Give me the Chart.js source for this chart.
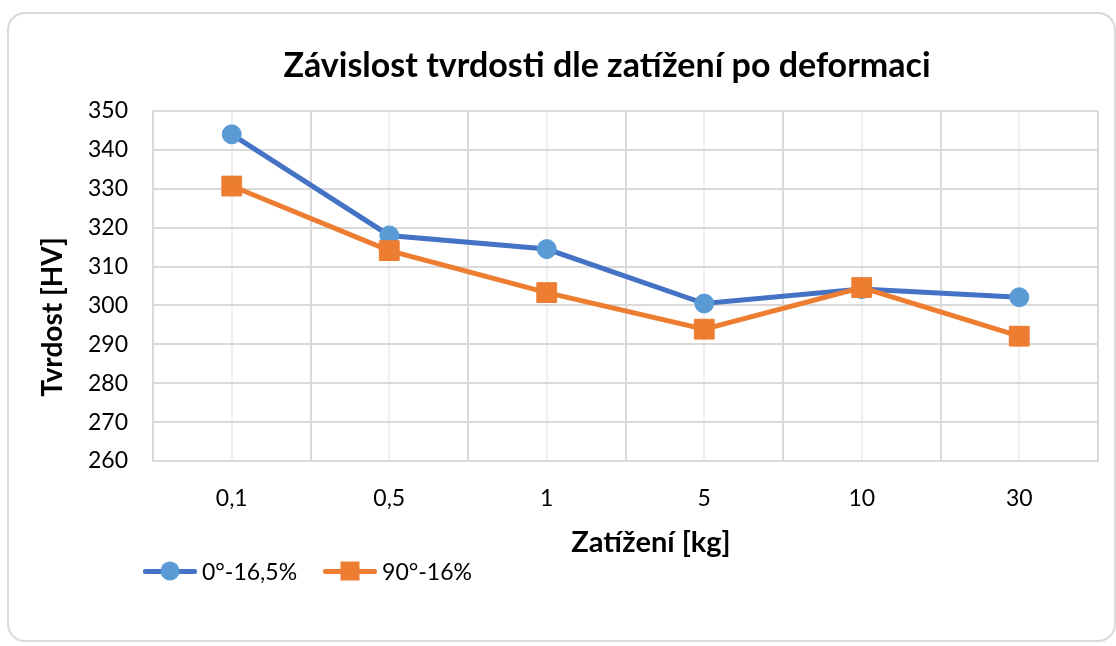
<!DOCTYPE html>
<html>
<head>
<meta charset="utf-8">
<script src="https://cdn.jsdelivr.net/npm/chart.js@4.4.0/dist/chart.umd.min.js"></script>
<style>
  body { margin: 0; background: #fff; font-family: Lato, sans-serif; }
  #wrap { position: relative; width: 1116px; height: 646px; overflow: hidden; }
  #frame { position: absolute; left: 7px; top: 12px; width: 1105px; height: 626px;
           border: 2px solid #d9d9d9; border-radius: 18px; }
  canvas { position: absolute; left: 0; top: 0; }
  #legend { position: absolute; left: 143px; top: 557px; display: flex; font-size: 23px; color: #000; }
  .item { display: flex; align-items: center; margin-right: 26px; }
  .key { position: relative; width: 54px; height: 28px; margin-right: 5px; }
  .key .ln { position: absolute; left: 0; right: 0; top: 11.5px; height: 5px; border-radius: 2px; }
  .key .mk { position: absolute; left: 50%; top: 50%; transform: translate(-50%, -50%); }
</style>
</head>
<body>
<div id="wrap">
  <div id="frame"></div>
  <canvas id="myChart" width="1116" height="646"></canvas>
  <div id="legend"></div>
</div>
<script>
const chartTitle = 'Závislost tvrdosti dle zatížení po deformaci';
const xTitle = 'Zatížení [kg]';
const yTitle = 'Tvrdost [HV]';

const loads = ['0,1', '0,5', '1', '5', '10', '30'];
const hard0 = [344, 318, 314.5, 300.5, 304.2, 302.1];
const hard90 = [330.7, 314.1, 303.3, 293.9, 304.6, 292.1];

const yMin = 260;
const yMax = 350;
const yStep = 10;

// titles are drawn by hand, Excel does not center them on the plot
const textPlugin = {
    id: 'texts',
    afterDraw(chart) {
        const ctx = chart.ctx;
        ctx.save();
        ctx.fillStyle = '#000';
        ctx.textAlign = 'center';
        ctx.textBaseline = 'middle';
        ctx.font = 'bold 34px Lato';
        ctx.fillText(chartTitle, 607, 66);
        ctx.font = 'bold 29px Lato';
        ctx.fillText(xTitle, 651, 543);
        ctx.font = 'bold 28px Lato';
        ctx.translate(53, 317);
        ctx.rotate(-Math.PI / 2);
        ctx.fillText(yTitle, 0, 0);
        ctx.restore();
    }
};

const ctx = document.getElementById('myChart').getContext('2d');
const myChart = new Chart(ctx, {
    type: 'line',
    data: {
        labels: loads,
        datasets: [{
            label: '0°-16,5%',
            data: hard0,
            borderColor: '#4472C4',
            borderWidth: 5,
            pointStyle: 'circle',
            pointRadius: 9.5,
            pointBackgroundColor: '#5B9BD5',
            pointBorderColor: '#5B9BD5',
            pointBorderWidth: 1,
            tension: 0,
            order: 2
        }, {
            label: '90°-16%',
            data: hard90,
            borderColor: '#ED7D31',
            borderWidth: 5,
            pointStyle: 'rect',
            pointRadius: 14,
            pointBackgroundColor: '#ED7D31',
            pointBorderColor: '#ED7D31',
            pointBorderWidth: 1,
            tension: 0,
            order: 1
        }]
    },
    options: {
        responsive: false,
        animation: false,
        layout: { padding: { top: 111, right: 18, bottom: 125, left: 0 } },
        plugins: {
            legend: { display: false },
            title: { display: false },
            tooltip: { enabled: false }
        },
        scales: {
            x: {
                offset: true,
                grid: { offset: true, color: '#d9d9d9', lineWidth: 2, drawTicks: false },
                border: { display: true, color: '#d9d9d9', width: 2 },
                ticks: { padding: 24, color: '#000', font: { family: 'Lato', size: 23 } },
                afterFit(s) { s.height = 60; }
            },
            xm: {
                type: 'category',
                labels: loads,
                position: 'bottom',
                offset: true,
                grid: { offset: false, color: '#efefef', lineWidth: 2, drawTicks: false },
                border: { display: false },
                ticks: { display: false },
                afterFit(s) { s.height = 0; }
            },
            y: {
                min: yMin,
                max: yMax,
                ticks: { stepSize: yStep, padding: 25, color: '#000', font: { family: 'Lato', size: 23 } },
                grid: { color: '#d9d9d9', lineWidth: 2, drawTicks: false },
                border: { display: true, color: '#d9d9d9', width: 2 },
                afterFit(s) { s.width = 153; }
            }
        }
    },
    plugins: [textPlugin]
});

const legend = document.getElementById('legend');
for (const ds of myChart.data.datasets) {
    const item = document.createElement('div');
    item.className = 'item';
    const key = document.createElement('span');
    key.className = 'key';
    const ln = document.createElement('span');
    ln.className = 'ln';
    ln.style.background = ds.borderColor;
    const mk = document.createElement('span');
    mk.className = 'mk';
    mk.style.background = ds.pointBackgroundColor;
    mk.style.width = '19px';
    mk.style.height = '19px';
    if (ds.pointStyle !== 'rect') mk.style.borderRadius = '50%';
    key.appendChild(ln);
    key.appendChild(mk);
    const txt = document.createElement('span');
    txt.innerText = ds.label;
    item.appendChild(key);
    item.appendChild(txt);
    legend.appendChild(item);
}
</script>
</body>
</html>
